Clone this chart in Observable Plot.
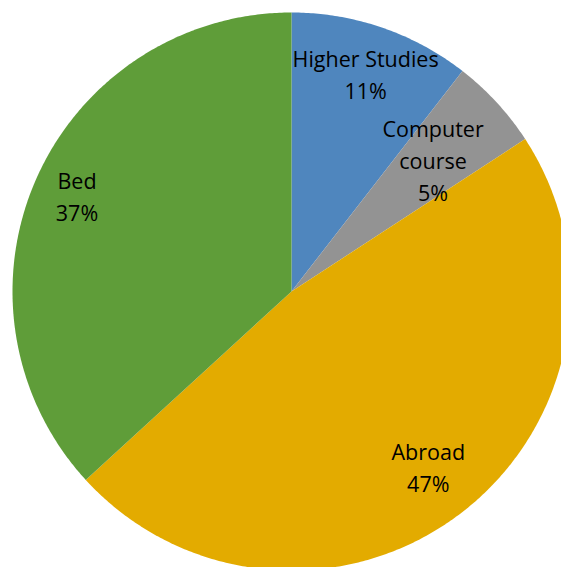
<!DOCTYPE html>
<html>
<head>
<meta charset="utf-8">
<script src="https://cdn.jsdelivr.net/npm/d3@7"></script>
<script src="https://cdn.jsdelivr.net/npm/@observablehq/plot@0.6"></script>
<style>
  html, body { margin: 0; padding: 0; background: #fff; }
  #chart svg { display: block; }
</style>
</head>
<body>
<div id="chart"></div>
<script>
// Data (clockwise from 12 o'clock)
const categories = ["Higher Studies", "Computer course", "Abroad", "Bed"];
const labelLines = ["Higher Studies", "Computer\ncourse", "Abroad", "Bed"];
const shares = [10.5, 5.3, 47.4, 36.8];
const colors = ["#4F86BE", "#939393", "#E3AB00", "#5F9D39"];

// Geometry helpers (layout, not data)
const W = 561, H = 567, R = 279, CX = 291, CY = 291;
const labelRadius = {"Higher Studies": 0.82, "Computer course": 0.69, "Abroad": 0.80, "Bed": 0.84};

const total = d3.sum(shares);
const arcs = d3.pie().sort(null).value(d => d)(shares);

const slicePts = [];
const labels = [];
arcs.forEach((a, i) => {
  const name = categories[i];
  const steps = Math.max(2, Math.ceil((a.endAngle - a.startAngle) / (Math.PI / 360)));
  slicePts.push({name, x: 0, y: 0});
  for (let k = 0; k <= steps; k++) {
    const t = a.startAngle + (a.endAngle - a.startAngle) * k / steps;
    slicePts.push({name, x: Math.sin(t), y: Math.cos(t)});
  }
  slicePts.push({name, x: 0, y: 0});
  const mid = (a.startAngle + a.endAngle) / 2;
  const r = labelRadius[name];
  labels.push({
    name,
    x: r * Math.sin(mid),
    y: r * Math.cos(mid),
    text: labelLines[i] + "\n" + Math.round(shares[i] / total * 100) + "%"
  });
});

const chart = Plot.plot({
  width: W,
  height: H,
  margin: 0,
  x: {domain: [-CX / R, (W - CX) / R], range: [0, W], axis: null},
  y: {domain: [-(H - CY) / R, CY / R], range: [H, 0], axis: null},
  color: {domain: categories, range: colors},
  style: {background: "#fff"},
  marks: [
    Plot.line(slicePts, {x: "x", y: "y", z: "name", fill: "name", stroke: "none", curve: "linear"}),
    Plot.text(labels, {
      x: "x", y: "y", text: "text", dy: -2,
      fontSize: 21.5, lineHeight: 1.49,
      fill: "#000", fontFamily: "'Open Sans', sans-serif"
    })
  ]
});
document.getElementById("chart").appendChild(chart);
</script>
</body>
</html>
